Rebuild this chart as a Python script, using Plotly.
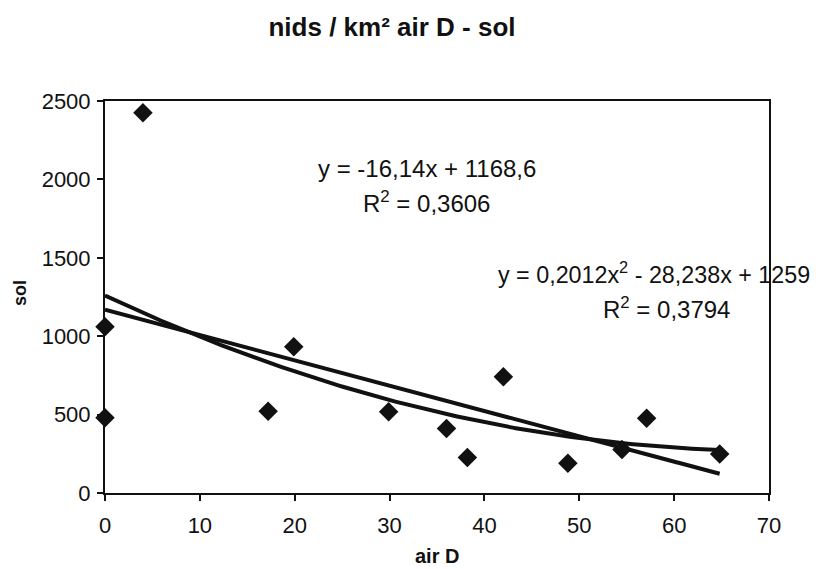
import numpy as np
import plotly.graph_objects as go

# Data
air_d = [0, 0, 4, 17.2, 19.9, 29.9, 36, 38.2, 42, 48.8, 54.5, 57.1, 64.8]
sol = [1060, 480, 2425, 522, 932, 518, 412, 227, 741, 189, 278, 476, 248]

lin_coef = [-16.14, 1168.6]          # slope, intercept
quad_coef = [0.2012, -28.238, 1259]  # a, b, c

title_text = "nids / km² air D - sol"
x_title = "air D"
y_title = "sol"
lin_eq = "y = -16,14x + 1168,6"
lin_r2 = "R<sup>2</sup> = 0,3606"
quad_eq = "y = 0,2012x<sup>2</sup> - 28,238x + 1259"
quad_r2 = "R<sup>2</sup> = 0,3794"

x_ticks = [0, 10, 20, 30, 40, 50, 60, 70]
y_ticks = [0, 500, 1000, 1500, 2000, 2500]

xs = np.linspace(min(air_d), max(air_d), 200)
y_lin = np.polyval(lin_coef, xs)
y_quad = np.polyval(quad_coef, xs)

FONT = "Liberation Sans, Arial, sans-serif"
INK = "#111111"

W, H = 811, 561  # page adds an 8px body margin
L, R, T, B = 97, 50, 93, 76
PW, PH = W - L - R, H - T - B

fig = go.Figure()
fig.add_trace(go.Scatter(x=xs, y=y_lin, mode="lines",
                         line=dict(color=INK, width=4), showlegend=False))
fig.add_trace(go.Scatter(x=xs, y=y_quad, mode="lines",
                         line=dict(color=INK, width=4), showlegend=False))
fig.add_trace(go.Scatter(x=air_d, y=sol, mode="markers",
                         marker=dict(symbol="diamond", size=15, color=INK),
                         showlegend=False, cliponaxis=False))

axis_common = dict(showgrid=False, zeroline=False, showline=True, linecolor=INK,
                   linewidth=2, mirror=True, ticks="outside", ticklen=6,
                   tickcolor=INK, tickwidth=1.5, automargin=False,
                   tickfont=dict(family=FONT, size=22, color=INK))

fig.update_layout(
    width=W, height=H,
    margin=dict(l=L, r=R, t=T, b=B, autoexpand=False),
    paper_bgcolor="white", plot_bgcolor="white",
    title=dict(text="<b>" + title_text + "</b>", x=384 / W, xanchor="center",
               y=1 - 19 / H, yanchor="middle",
               font=dict(family=FONT, size=26, color=INK)),
    xaxis=dict(range=[0, 70], tickvals=x_ticks, ticklabelstandoff=6, **axis_common),
    yaxis=dict(range=[0, 2500], tickvals=y_ticks, ticklabelstandoff=2, **axis_common),
    xaxis2=dict(range=[0, 70], tickvals=x_ticks, overlaying="x", side="bottom",
                showticklabels=False, showgrid=False, zeroline=False,
                ticks="inside", ticklen=6, tickcolor=INK, tickwidth=1.5),
    yaxis2=dict(range=[0, 2500], tickvals=y_ticks, overlaying="y", side="left",
                showticklabels=False, showgrid=False, zeroline=False,
                ticks="inside", ticklen=6, tickcolor=INK, tickwidth=1.5),
)

# axis titles
fig.add_annotation(x=(429 - L) / PW, y=0, xref="paper", yref="paper",
                   yshift=-63, yanchor="middle", xanchor="center",
                   text="<b>" + x_title + "</b>", showarrow=False,
                   font=dict(family=FONT, size=20, color=INK))
fig.add_annotation(x=0, y=(H - B - 285) / PH, xref="paper", yref="paper",
                   xshift=12 - L, xanchor="center", yanchor="middle", textangle=-90,
                   text="<b>" + y_title + "</b>", showarrow=False,
                   font=dict(family=FONT, size=18, color=INK))

ann_font = dict(family=FONT, size=24, color=INK)
quad_font = dict(family=FONT, size=23.3, color=INK)
fig.add_annotation(x=33.9, y=2070, xref="x", yref="y", text=lin_eq,
                   showarrow=False, font=ann_font)
fig.add_annotation(x=33.9, y=1854, xref="x", yref="y", text=lin_r2,
                   showarrow=False, font=ann_font)
fig.add_annotation(x=57.9, y=1401, xref="x", yref="y", text=quad_eq,
                   showarrow=False, font=quad_font)
fig.add_annotation(x=59.2, y=1178, xref="x", yref="y", text=quad_r2,
                   showarrow=False, font=ann_font)

fig.write_html("out.html")
